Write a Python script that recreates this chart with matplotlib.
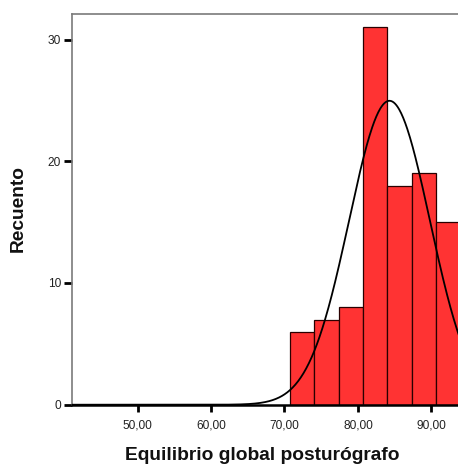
import numpy as np
import matplotlib.pyplot as plt

plt.rcParams['font.family'] = ['Liberation Sans', 'DejaVu Sans']

# Histogram of "Equilibrio global posturógrafo"
bin_start = 70.78
bin_width = 3.31
counts = [6, 7, 8, 31, 18, 19, 15]

# Fitted normal curve parameters
curve_mean = 84.3
curve_sd = 5.5
n_total = sum(counts)

x_ticks = [50, 60, 70, 80, 90]
x_ticklabels = ['50,00', '60,00', '70,00', '80,00', '90,00']
y_ticks = [0, 10, 20, 30]

fig = plt.figure(figsize=(4.58, 4.66), dpi=100)
ax = fig.add_axes([0.1572, 0.1315, 0.8808, 0.8385])

edges = bin_start + bin_width * np.arange(len(counts))
ax.bar(edges, counts, width=bin_width, align='edge',
       color='#FF3333', edgecolor='#2a0000', linewidth=0.9, zorder=2)

xs = np.linspace(41, 96, 600)
ys = n_total * bin_width / (curve_sd * np.sqrt(2 * np.pi)) * \
    np.exp(-0.5 * ((xs - curve_mean) / curve_sd) ** 2)
ax.plot(xs, ys, color='black', linewidth=1.3, zorder=3)

ax.set_xlim(41.07, 96)
ax.set_ylim(0, 32.1)

ax.set_xticks(x_ticks)
ax.set_xticklabels(x_ticklabels)
ax.set_yticks(y_ticks)

ax.tick_params(axis='x', direction='out', length=5, width=2, color='black',
               labelsize=8.6, labelcolor='#222222', pad=6)
ax.tick_params(axis='y', direction='out', length=6, width=2, color='black',
               labelsize=8.6, labelcolor='#222222', pad=2)

ax.spines['right'].set_visible(False)
ax.spines['left'].set_color('#7a7a7a')
ax.spines['left'].set_linewidth(1.2)
ax.spines['top'].set_color('#7a7a7a')
ax.spines['top'].set_linewidth(1.2)
ax.spines['bottom'].set_color('black')
ax.spines['bottom'].set_linewidth(1.8)
ax.spines['bottom'].set_zorder(4)

fig.text(0.573, 0.022, 'Equilibrio global posturógrafo', ha='center', va='center',
         fontsize=13.8, fontweight='bold', color='#111111')
fig.text(0.04, 0.553, 'Recuento', ha='center', va='center', rotation=90,
         fontsize=13.8, fontweight='bold', color='#111111')

fig.savefig('out.png', dpi=100)
